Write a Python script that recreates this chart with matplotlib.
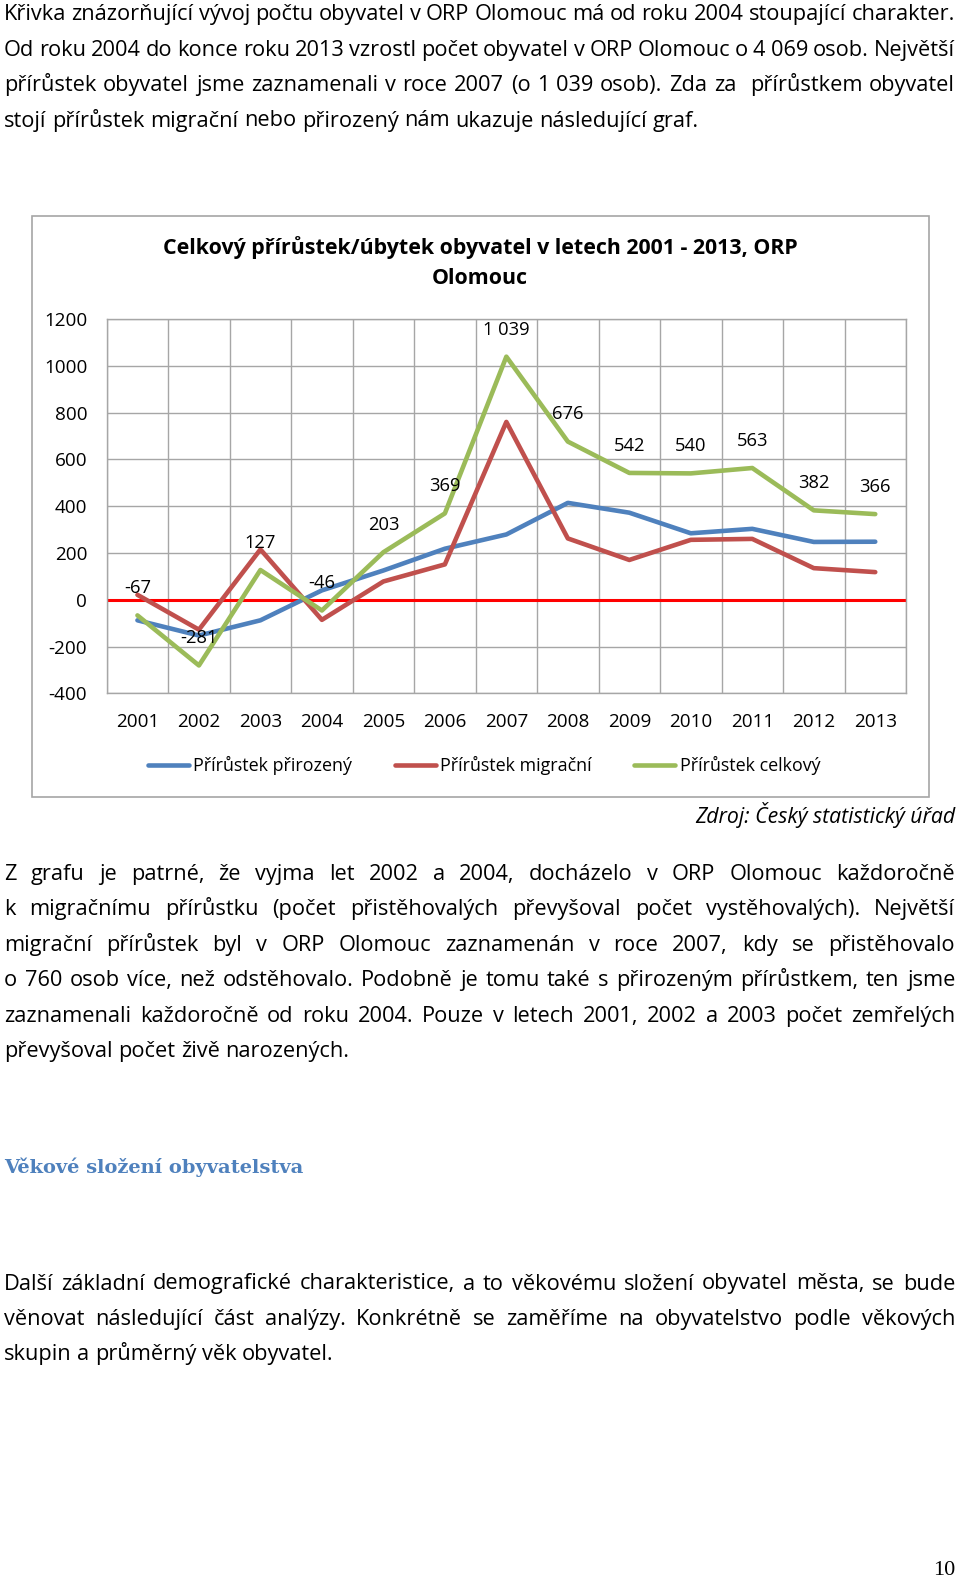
import numpy as np
import matplotlib.pyplot as plt
from matplotlib.font_manager import FontProperties
from matplotlib.patches import Rectangle

# data
years = ['2001', '2002', '2003', '2004', '2005', '2006', '2007',
         '2008', '2009', '2010', '2011', '2012', '2013']
prirozeny = [-88, -153, -88, 40, 125, 218, 279, 414, 372, 284, 303, 247, 248]
migracni = [21, -128, 215, -86, 78, 151, 760, 262, 170, 256, 260, 135, 118]
celkovy = [-67, -281, 127, -46, 203, 369, 1039, 676, 542, 540, 563, 382, 366]
celkovy_popisky = ['-67', '-281', '127', '-46', '203', '369', '1 039',
                   '676', '542', '540', '563', '382', '366']
y_ticks = [-400, -200, 0, 200, 400, 600, 800, 1000, 1200]
serie_nazvy = ['Přírůstek přirozený', 'Přírůstek migrační', 'Přírůstek celkový']
serie_barvy = ['#4F81BD', '#C0504D', '#9BBB59']

odstavec1 = [
    'Křivka znázorňující vývoj počtu obyvatel v ORP Olomouc má od roku 2004 stoupající charakter.',
    'Od roku 2004 do konce roku 2013 vzrostl počet obyvatel v ORP Olomouc o 4\u00a0069 osob. Největší',
    'přírůstek obyvatel jsme zaznamenali v roce 2007 (o 1\u00a0039 osob). Zda za  přírůstkem obyvatel',
    'stojí přírůstek migrační nebo přirozený nám ukazuje následující graf.',
]
odstavec2 = [
    'Z grafu je patrné, že vyjma let 2002 a 2004, docházelo v ORP Olomouc každoročně',
    'k migračnímu přírůstku (počet přistěhovalých převyšoval počet vystěhovalých). Největší',
    'migrační přírůstek byl v ORP Olomouc zaznamenán v roce 2007, kdy se přistěhovalo',
    'o 760 osob více, než odstěhovalo. Podobně je tomu také s přirozeným přírůstkem, ten jsme',
    'zaznamenali každoročně od roku 2004. Pouze v letech 2001, 2002 a 2003 počet zemřelých',
    'převyšoval počet živě narozených.',
]
odstavec3 = [
    'Další základní demografické charakteristice, a to věkovému složení obyvatel města, se bude',
    'věnovat následující část analýzy. Konkrétně se zaměříme na obyvatelstvo podle věkových',
    'skupin a průměrný věk obyvatel.',
]

W, H = 960, 1580
plt.rcParams['font.family'] = ['Open Sans', 'DejaVu Sans']
plt.rcParams['axes.unicode_minus'] = False
fig = plt.figure(figsize=(W / 100, H / 100), dpi=100)
renderer = fig.canvas.get_renderer()
telo = FontProperties(family=['Open Sans', 'DejaVu Sans'], size=15.7)


def sirka(s, fp):
    t = fig.text(0, 0, s, fontproperties=fp)
    w = t.get_window_extent(renderer).width
    t.remove()
    return w


def odstavec(radky, baseline0, krok=35.4, x0=4, x1=955, fp=telo):
    mezera = sirka('a a', fp) - sirka('aa', fp)
    for i, radek in enumerate(radky):
        slova = radek.split(' ')
        sirky = [sirka(s, fp) if s else 0 for s in slova]
        posledni = i == len(radky) - 1
        if posledni or len(slova) < 2:
            gap = mezera
        else:
            gap = (x1 - x0 - sum(sirky)) / (len(slova) - 1)
            gap = max(gap, 0.6 * mezera)
        x = x0
        y = baseline0 + i * krok
        for s, w in zip(slova, sirky):
            if s:
                fig.text(x / W, 1 - y / H, s, fontproperties=fp,
                         ha='left', va='baseline', color='black')
            x += w + gap


odstavec(odstavec1, 20.3)
odstavec(odstavec2, 880.0)
odstavec(odstavec3, 1289.5)

fig.text(4 / W, 1 - 1173 / H, 'Věkové složení obyvatelstva',
         family='DejaVu Serif', weight='bold', size=14.0, color='#4F81BD',
         ha='left', va='baseline')
fig.text(955 / W, 1 - 823 / H, 'Zdroj: Český statistický úřad',
         size=15.3, style='italic', ha='right', va='baseline')
fig.text(955 / W, 1 - 1575 / H, '10', family='Liberation Serif', size=16,
         ha='right', va='baseline')

# chart frame
fig.patches.append(Rectangle((31.5 / W, 1 - 796.5 / H), (929 - 31.5) / W,
                             (796.5 - 215.5) / H, transform=fig.transFigure,
                             fill=False, edgecolor='#A6A6A6', lw=1.2))

fig.text(480 / W, 1 - 248 / H,
         'Celkový přírůstek/úbytek obyvatel v letech 2001 - 2013, ORP',
         weight='bold', size=15.4, ha='center', va='center')
fig.text(480 / W, 1 - 279 / H, 'Olomouc', weight='bold', size=15.4,
         ha='center', va='center')

left, right, top, bottom = 106.7, 906.0, 319.0, 693.3
ax = fig.add_axes([left / W, 1 - bottom / H, (right - left) / W, (bottom - top) / H])
x = np.arange(len(years))

ax.axhline(0, color='#FF0000', lw=2.2, zorder=2)
for vals, barva, nazev in zip([prirozeny, migracni, celkovy], serie_barvy, serie_nazvy):
    ax.plot(x, vals, color=barva, lw=3.3, label=nazev, zorder=3,
            solid_joinstyle='round', solid_capstyle='round')

for xi, v, lab in zip(x, celkovy, celkovy_popisky):
    ax.annotate(lab, (xi, v), xytext=(0, 19.5), textcoords='offset points',
                ha='center', va='center', fontsize=13.2, zorder=4)

ax.set_xlim(-0.5, len(years) - 0.5)
ax.set_ylim(-400, 1200)
ax.set_yticks(y_ticks)
ax.set_xticks(x)
ax.set_xticklabels(years)
ax.set_xticks(np.arange(-0.5, len(years)), minor=True)
ax.tick_params(axis='both', which='both', length=0, labelsize=13.6)
ax.tick_params(axis='y', pad=14)
ax.tick_params(axis='x', pad=14)
ax.grid(True, axis='y', color='#A6A6A6', lw=1.0)
ax.grid(True, axis='x', which='minor', color='#A6A6A6', lw=1.0)
ax.set_axisbelow(True)
for sp in ax.spines.values():
    sp.set_color('#A6A6A6')
    sp.set_linewidth(1.0)

ax.legend(loc='center', bbox_to_anchor=(484 / W, 1 - 765.7 / H),
          bbox_transform=fig.transFigure, ncol=3, frameon=False, fontsize=12.9,
          handlelength=2.3, handletextpad=0.25, columnspacing=2.35)

fig.savefig('out.png', dpi=100)
